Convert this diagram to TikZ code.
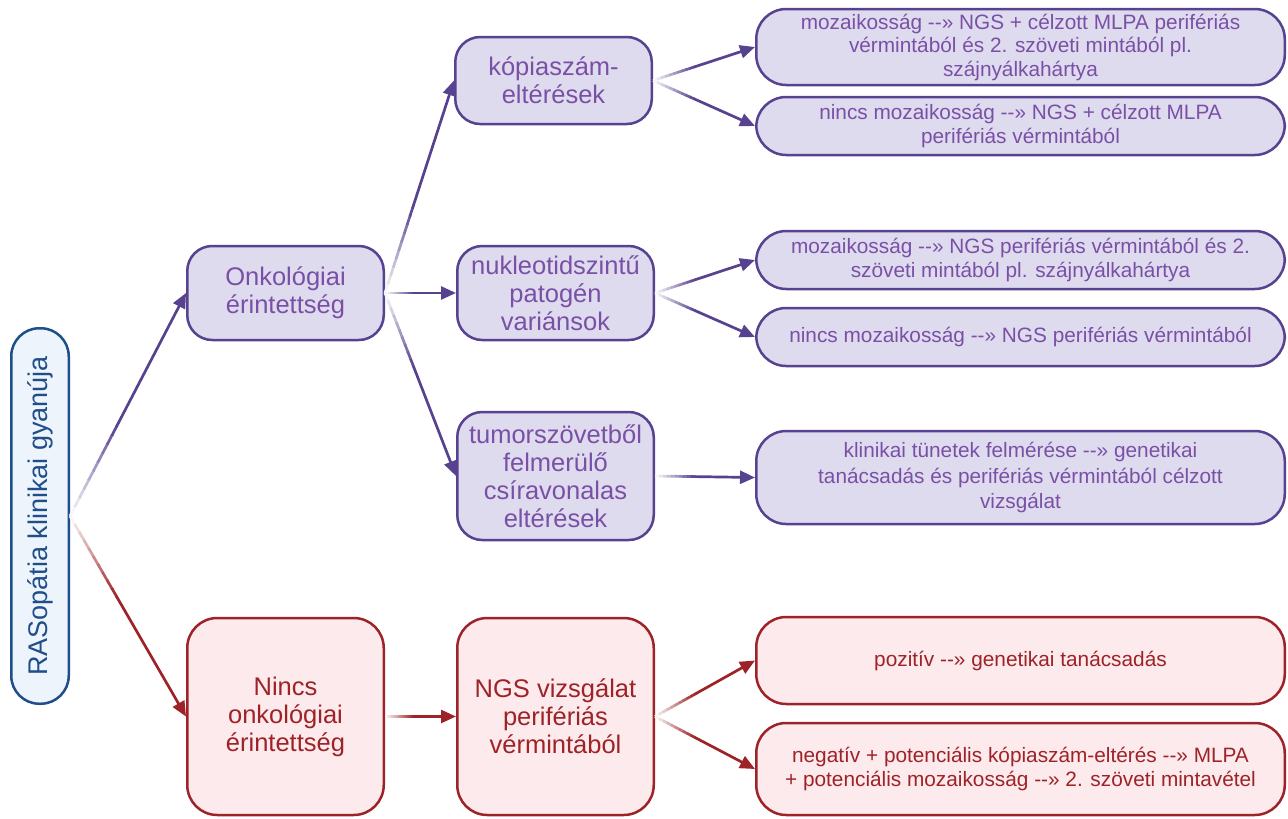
\documentclass[tikz,border=0pt]{standalone}
\usepackage{fontspec}
\setmainfont{Liberation Sans}
\usetikzlibrary{arrows.meta,calc}
\definecolor{pborder}{HTML}{574290}
\definecolor{pfill}{HTML}{DEDBEF}
\definecolor{ptext}{HTML}{7A50A6}
\definecolor{rborder}{HTML}{9E2328}
\definecolor{rfill}{HTML}{FCEAEC}
\definecolor{rtext}{HTML}{9E2328}
\definecolor{bborder}{HTML}{1F4E8A}
\definecolor{bfill}{HTML}{EEF4FB}
\newcommand\dashar{-\kern0pt-»}
\newcommand\fadeconn[3]{%
  \foreach \i [evaluate=\i as \p using int(\i*10+5)] in {0,...,9}{%
    \draw[line width=2.7pt, color=#1!\p!white] ($(#2)!\i*0.04!(#3)$) -- ($(#2)!\i*0.04+0.045!(#3)$);
  }%
  \draw[line width=2.7pt, #1, -{Triangle[length=15pt,width=13pt]}] ($(#2)!0.4!(#3)$) -- (#3);%
}
\begin{document}
\begin{tikzpicture}[x=1pt,y=-1pt,
  box/.style={draw, line width=2.5pt, rounded corners=25pt, align=center, inner sep=0pt, anchor=center},
  pbox/.style={box, draw=pborder, fill=pfill, text=ptext},
  rbox/.style={box, draw=rborder, fill=rfill, text=rtext},
  mid/.style={font=\fontsize{25.5}{28}\selectfont, minimum width=196.5pt},
  rgt/.style={font=\fontsize{20.8}{23.5}\selectfont, minimum width=528.5pt, rounded corners=30pt},
]
\useasboundingbox (0,0) rectangle (1288,819);

\node[box, rotate=90, draw=bborder, fill=bfill, text=bborder, font=\fontsize{27}{30}\selectfont,
      minimum width=375.5pt, minimum height=57.5pt, rounded corners=28pt] (root) at (40,516) {RASopátia klinikai gyanúja};

\node[pbox, mid, minimum height=94pt] (onk) at (285.5,293) {Onkológiai\\érintettség};
\node[pbox, mid, minimum height=87pt] (kop) at (553.5,80.5) {kópiaszám-\\eltérések};
\node[pbox, mid, minimum height=94pt] (nuk) at (555.5,293) {nukleotidszintű\\patogén\\variánsok};
\node[pbox, mid, minimum height=128pt] (tum) at (555.5,476) {tumorszövetből\\felmerülő\\csíravonalas\\eltérések};

\node[rbox, mid, minimum height=197pt, rounded corners=30pt] (nin) at (285.5,716.5) {Nincs\\onkológiai\\érintettség};
\node[rbox, mid, minimum height=197pt, rounded corners=30pt] (ngs) at (555.5,716.5) {NGS vizsgálat\\perifériás\\vérmintából};

\node[pbox, rgt, minimum height=76pt] (r1) at (1020.5,47) {mozaikosság \dashar{} NGS + célzott MLPA perifériás\\vérmintából és 2. szöveti mintából pl.\\szájnyálkahártya};
\node[pbox, rgt, minimum height=58pt] (r2) at (1020.5,126) {nincs mozaikosság \dashar{} NGS + célzott MLPA\\perifériás vérmintából};
\node[pbox, rgt, minimum height=58pt] (r3) at (1020.5,260) {mozaikosság \dashar{} NGS perifériás vérmintából és 2.\\szöveti mintából pl. szájnyálkahártya};
\node[pbox, rgt, minimum height=58pt] (r4) at (1020.5,337) {nincs mozaikosság \dashar{} NGS perifériás vérmintából};
\node[pbox, rgt, minimum height=93pt, font=\fontsize{20.8}{25.5}\selectfont] (r5) at (1020.5,477.5) {klinikai tünetek felmérése \dashar{} genetikai\\tanácsadás és perifériás vérmintából célzott\\vizsgálat};
\node[rbox, rgt, minimum height=87pt] (r6) at (1020.5,660.5) {pozitív \dashar{} genetikai tanácsadás};
\node[rbox, rgt, minimum height=92pt] (r7) at (1020.5,769) {negatív + potenciális kópiaszám-eltérés \dashar{} MLPA\\+ potenciális mozaikosság \dashar{} 2. szöveti mintavétel};

\fadeconn{pborder}{root.south}{onk.west}
\fadeconn{rborder}{root.south}{nin.west}
\fadeconn{pborder}{onk.east}{kop.west}
\fadeconn{pborder}{onk.east}{nuk.west}
\fadeconn{pborder}{onk.east}{tum.west}
\fadeconn{pborder}{kop.east}{r1.west}
\fadeconn{pborder}{kop.east}{r2.west}
\fadeconn{pborder}{nuk.east}{r3.west}
\fadeconn{pborder}{nuk.east}{r4.west}
\fadeconn{pborder}{tum.east}{r5.west}
\fadeconn{rborder}{nin.east}{ngs.west}
\fadeconn{rborder}{ngs.east}{r6.west}
\fadeconn{rborder}{ngs.east}{r7.west}
\end{tikzpicture}
\end{document}
